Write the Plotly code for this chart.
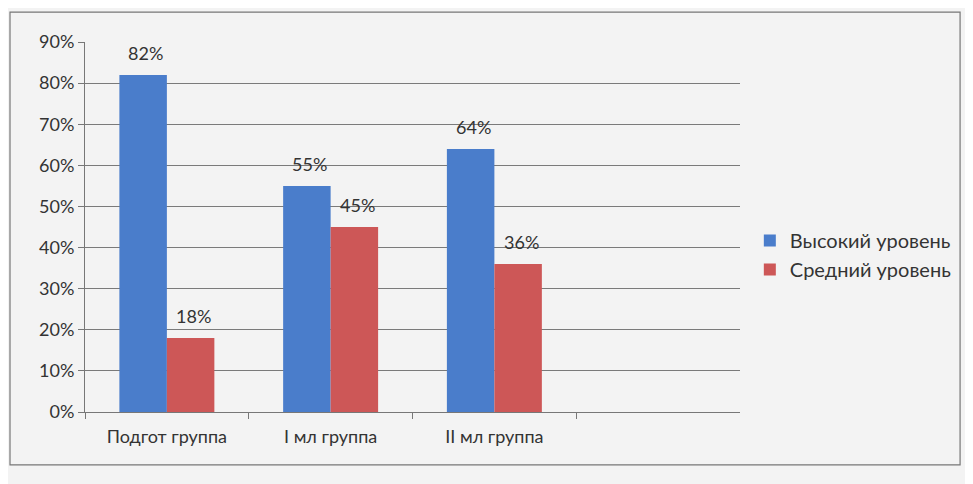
import plotly.graph_objects as go

categories = ["Подгот группа", "I мл группа", "II мл группа"]
high_level = [82, 55, 64]
mid_level = [18, 45, 36]
series_names = ["Высокий уровень", "Средний уровень"]
y_ticks = [0, 10, 20, 30, 40, 50, 60, 70, 80, 90]
y_tick_labels = [f"{v}%" for v in y_ticks]

FONT = "Lato, 'Open Sans', sans-serif"
TXT = "#333333"
COLORS = ["#4A7DCB", "#CD5757"]

fig = go.Figure()
for name, vals, col in zip(series_names, [high_level, mid_level], COLORS):
    fig.add_trace(go.Bar(
        x=categories, y=vals, name=name,
        marker=dict(color=col, line=dict(width=0)),
    ))

annotations = []
for shift, vals in zip([-21, 27], [high_level, mid_level]):
    for c, v in zip(categories, vals):
        annotations.append(dict(
            x=c, y=v, text=f"{v}%", showarrow=False,
            xanchor="center", yanchor="bottom", xshift=shift, yshift=9,
            font=dict(size=18, color=TXT, family=FONT),
        ))

fig.update_layout(
    width=973, height=484,
    margin=dict(l=77, r=241, t=34, b=80, autoexpand=False),
    paper_bgcolor="#f3f3f3", plot_bgcolor="#f3f3f3",
    barmode="group", bargap=0.42, bargroupgap=0,
    font=dict(family=FONT, size=18, color=TXT),
    showlegend=True,
    legend=dict(x=1.015, y=0.424, xanchor="left", yanchor="middle",
                font=dict(size=20, color=TXT, family=FONT),
                itemwidth=30, bgcolor="rgba(0,0,0,0)"),
    xaxis=dict(
        type="category", range=[-0.5, 3.5],
        showline=True, linecolor="#777", linewidth=1,
        ticks="outside", tickson="boundaries", ticklen=6, tickcolor="#777",
        tickfont=dict(size=18, color=TXT, family=FONT),
        ticklabelstandoff=8,
        showgrid=False,
    ),
    yaxis=dict(
        range=[0, 90], tickvals=y_ticks, ticktext=y_tick_labels,
        showline=True, linecolor="#777", linewidth=1,
        ticks="outside", ticklen=6, tickcolor="#777",
        showgrid=True, gridcolor="#7a7a7a", gridwidth=1,
        tickfont=dict(size=18, color=TXT, family=FONT),
        zeroline=False,
    ),
    annotations=annotations,
    shapes=[dict(type="rect", xref="paper", yref="paper",
                 x0=-0.1145, x1=1.336, y0=-0.143, y1=1.081,
                 line=dict(color="#777", width=1.2), fillcolor="rgba(0,0,0,0)", layer="below")],
)

fig.write_html("out.html")
